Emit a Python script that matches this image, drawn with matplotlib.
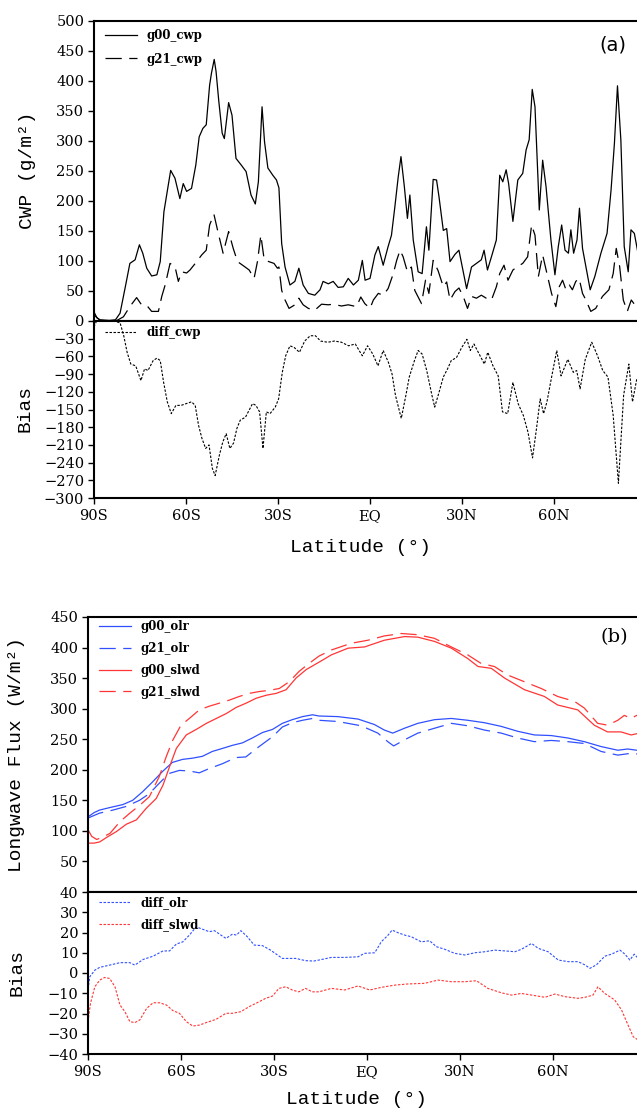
import matplotlib
matplotlib.use("Agg")
import matplotlib.pyplot as plt
import numpy as np

# ---- panel (a) data: cloud water path ----
lat_g00_cwp = [-90, -89, -88, -85, -83, -81.5, -79.9, -78.3, -76.6, -75.2, -74.1, -72.8, -71.2, -69.5, -68.4,
               -67.2, -66.1, -65, -63.6, -62, -60.9, -59.8, -58.2, -56.8, -55.7, -54.5, -53.4, -52.3, -51.7,
               -50.8, -50.2, -49.3, -48.2, -47.5, -46.1, -45, -43.7, -42, -40.4, -38.8, -37.4, -36.4, -35.2,
               -34.4, -33.3, -31.7, -30.5, -29.7, -28.8, -27.7, -26.1, -24.5, -23.2, -21.8, -20.1, -18, -16.3,
               -15.3, -13.6, -12, -10.4, -8.7, -7.1, -5.4, -3.8, -2.5, -1.6, 0, 1.6, 2.7, 4.3, 5.9, 7.0, 8.1,
               9.2, 10.1, 11.2, 12.2, 13.0, 14.1, 15.7, 17.0, 18.4, 19.2, 20.6, 21.7, 22.5, 23.9, 25.0, 26.1,
               27.7, 29.0, 30.4, 31.5, 33.1, 34.7, 36.3, 37.2, 38.3, 39.6, 41.2, 42.3, 43.3, 44.4, 45.2, 46.6,
               48.2, 49.8, 50.9, 51.9, 52.9, 53.8, 55.2, 56.3, 57.4, 59.0, 60.3, 61.4, 62.5, 63.6, 64.7, 65.5,
               66.4, 67.5, 68.3, 69.3, 70.4, 71.8, 73.3, 75.3, 77.3, 78.6, 79.7, 80.7, 81.8, 82.9, 84.2, 85.1,
               86.2, 87.5, 90]
g00_cwp = [15, 5, 2, 1, 2, 13, 54, 96, 102, 127, 113, 88, 75, 77, 99,
           182, 216, 251, 238, 204, 229, 216, 221, 260, 307, 321, 327, 393, 413,
           436, 416, 366, 313, 304, 364, 343, 271, 260, 249, 210, 195, 232, 357,
           299, 255, 243, 235, 222, 129, 90, 60, 66, 88, 60, 46, 43, 52,
           66, 62, 66, 56, 57, 71, 60, 68, 101, 68, 71, 110, 124, 93, 124, 143, 190,
           240, 274, 224, 171, 210, 135, 82, 79, 157, 118, 236, 235, 207, 151, 154, 99,
           111, 118, 82, 54, 90, 96, 102, 118, 85, 107, 135, 243, 232, 252, 229, 166,
           235, 246, 285, 302, 386, 357, 185, 268, 224, 135, 77, 124, 160, 118, 113, 152,
           113, 135, 188, 121, 91, 52, 74, 113, 146, 218, 296, 392, 302, 124, 82, 152,
           146, 110, 100]

lat_g21_cwp = [-90, -88, -85, -82.5, -80.4, -78.3, -76.1, -74.5, -72.8, -71.2, -69.0, -67.9, -66.8, -65.2,
               -63.6, -62.5, -61.4, -59.8, -58.7, -56.5, -54.9, -53.4, -52.3, -50.9, -49.6, -47.9, -46.1,
               -44.6, -43.2, -41.0, -39.4, -37.8, -36.7, -35.6, -34.5, -33, -31.3, -30.2, -29.7, -28.8, -27.7,
               -26.4, -24.5, -23.2, -21.8, -20.1, -18, -15.8, -13.6, -12, -9.3, -7.1, -4.4, -3, -1.7, 0, 1.1,
               2.7, 4.3, 5.9, 7.6, 8.7, 9.8, 10.8, 12.2, 13.5, 14.6, 16.8, 18.1, 19.2, 20.6, 22.2, 23.9, 25.0,
               26.1, 27.7, 29.0, 30.4, 31.8, 33.1, 34.7, 36.3, 37.9, 39.6, 41.2, 42.3, 43.7, 45, 46.6, 48.2,
               49.8, 51.4, 52.7, 53.8, 54.9, 56.3, 57.7, 59.2, 60.6, 61.7, 62.8, 63.9, 65, 66, 67.1, 68.2,
               69.3, 70.4, 72.0, 73.6, 75.8, 77.9, 79.3, 80.3, 81.4, 82.6, 83.9, 85.2, 86.8, 90]
g21_cwp = [10, 1, 0, 1, 7, 24, 39, 27, 26, 16, 16, 41, 60, 96,
           91, 66, 82, 80, 85, 99, 110, 118, 160, 178, 149, 113, 149,
           121, 99, 91, 85, 71, 99, 143, 102, 99, 96, 88, 90, 51, 35,
           21, 27, 38, 27, 21, 18, 28, 27, 28, 25, 27, 24, 40, 29, 21, 35,
           46, 43, 54, 79, 101, 118, 107, 82, 90, 51, 29, 68, 46, 101, 84, 57, 65,
           35, 49, 55, 41, 21, 41, 38, 43, 38, 35, 57, 79, 93, 68, 85, 91,
           96, 107, 160, 143, 74, 110, 79, 46, 24, 57, 68, 52, 60, 52, 66, 71,
           46, 35, 16, 21, 41, 52, 79, 121, 91, 35, 16, 35, 24, 20]

lat_diff_cwp = [-90, -89, -88, -85, -81.5, -80.3, -79.2, -78, -76.4, -74.7, -73.5, -72.4, -70.7, -69.5, -68.4,
                -67.3, -66.1, -64.8, -63.3, -61.6, -59.9, -58.2, -57, -55.9, -54.8, -53.6, -52.5, -51.4, -50.5,
                -49.1, -48, -46.9, -45.7, -44.5, -43.4, -42.3, -40.6, -39.4, -38.3, -37.2, -36, -34.9, -33.8,
                -32.6, -30.9, -29.8, -28.6, -27.5, -26.1, -24.7, -23, -21.3, -19.5, -17.8, -16.1, -13.8, -11.6,
                -9.3, -7.0, -4.8, -2.5, -0.8, 0.9, 2.6, 4.3, 6.0, 7.2, 8.3, 10.2, 11.7, 12.8, 14.5, 15.7, 17,
                18.5, 20.2, 21.1, 22.5, 23.9, 25.3, 26.5, 28.2, 29.9, 31.6, 32.7, 33.9, 35.6, 37.3, 38.4, 40.1,
                41.8, 43.2, 44.9, 46.6, 48.3, 50, 51.5, 53, 54.3, 55.5, 56.6, 57.7, 59.4, 60.9, 62.3, 64.5,
                66.3, 67.4, 68.5, 70.2, 72.3, 74.2, 75.9, 77.6, 79.3, 81, 82.7, 84.4, 85.6, 87, 90]
diff_cwp = [-10, 2, 3, 2, -3, -25, -53, -73, -76, -101, -81, -84, -67, -63, -67,
            -104, -137, -157, -143, -143, -140, -137, -143, -177, -199, -216, -210, -250, -262,
            -227, -205, -191, -216, -207, -182, -168, -163, -151, -140, -143, -154, -216, -154,
            -157, -146, -132, -87, -59, -42, -45, -53, -34, -25, -25, -34, -36, -34,
            -36, -42, -39, -59, -42, -56, -76, -50, -70, -90, -126, -165, -126, -95, -67, -50, -56,
            -84, -126, -146, -121, -95, -81, -67, -62, -45, -31, -50, -39, -56, -73, -53, -76,
            -93, -154, -157, -104, -140, -160, -188, -232, -182, -132, -157, -137, -90, -50, -93, -65,
            -87, -84, -115, -65, -36, -59, -84, -95, -160, -275, -126, -73, -137, -98, -90]

# ---- panel (b) data: longwave fluxes ----
lat_g00_olr = [-90, -88, -86.3, -83.1, -78.8, -75.6, -72.4, -69.2, -66, -62.8, -59.5, -56.3, -53.1, -49.9,
               -46.6, -43.4, -40.2, -37, -33.7, -30.5, -27.3, -24.1, -20.8, -17.6, -15.5, -9.4, -2.9, 2.4,
               5.6, 8.3, 12.1, 16.4, 21.8, 27.2, 32.5, 37.9, 43.3, 48.6, 54.0, 59.4, 64.8, 70.1, 75.5, 80.9,
               84.1, 87, 90]
g00_olr = [123, 130, 134, 138, 143, 150, 164, 180, 197, 212, 217, 219, 222, 230,
           235, 240, 244, 252, 261, 266, 276, 282, 287, 290, 288, 287, 283, 274,
           265, 260, 268, 276, 282, 284, 281, 277, 271, 263, 257, 256, 252, 246, 238, 232,
           234, 232, 231]

lat_g21_olr = [-90, -86.3, -82, -77.7, -73.4, -70.2, -67, -63.8, -60.5, -57.3, -54.1, -50.9, -46.6, -42.3,
               -39.1, -34.8, -30.5, -27.3, -24.1, -20.8, -17.6, -15.5, -9.4, -1.9, 3.5, 6.7, 8.6, 12.1, 16.4,
               21.8, 27.2, 32.5, 37.9, 43.3, 48.6, 54, 59.4, 64.8, 70.1, 75.5, 80.9, 85.2, 87, 90]
g21_olr = [121, 129, 134, 140, 150, 161, 178, 194, 199, 198, 195, 202, 210, 220,
           221, 238, 254, 270, 277, 281, 284, 281, 279, 272, 260, 246, 239, 249, 260,
           268, 276, 272, 265, 260, 252, 246, 248, 246, 243, 230, 224, 227, 226, 225]

lat_g00_slwd = [-90, -88, -86.2, -84.1, -80.8, -77.6, -74.4, -71.2, -68, -65.8, -63.7, -61.5, -58.3, -55.1,
                -51.8, -48.6, -45.4, -42.2, -39, -35.8, -32.5, -29.3, -26.1, -22.9, -19.6, -15.5, -11.5, -6.1,
                -0.8, 5.6, 12.1, 16.4, 21.8, 27.2, 32.5, 35.8, 40.1, 44.4, 50.8, 57.2, 61.5, 68, 73.3, 77.6,
                81.9, 85.2, 87, 90]
g00_slwd = [80, 80, 82, 89, 99, 111, 118, 137, 153, 175, 205, 235, 257, 266,
            276, 284, 292, 302, 309, 317, 322, 325, 331, 350, 364, 376, 388, 399,
            401, 412, 418, 417, 410, 399, 382, 369, 366, 350, 331, 320, 306, 298, 273, 262,
            262, 257, 259, 258]

lat_g21_slwd = [-90, -88.8, -87.2, -85.6, -82.9, -79.7, -76.5, -73.3, -70.2, -67, -64.8, -62.7, -60, -57.3,
                -54.1, -50.9, -47.6, -44.4, -41.2, -38, -34.8, -31.5, -28.3, -25.1, -21.9, -18.7, -15.5,
                -11.5, -5.1, 0.3, 5.6, 11, 16.4, 21.8, 27.2, 32.5, 36.8, 41.1, 45.4, 50.8, 56.2, 61.5, 66.9,
                70.1, 74.4, 77.6, 80.9, 83, 85.2, 87, 90]
g21_slwd = [102, 91, 86, 89, 96, 115, 129, 142, 156, 189, 221, 248, 273, 284,
            298, 304, 309, 314, 320, 325, 328, 330, 333, 344, 361, 374, 386,
            396, 407, 412, 419, 423, 421, 415, 401, 388, 374, 369, 355, 344, 333, 320, 312,
            301, 276, 273, 281, 289, 284, 289, 288]

lat_diff_olr = [-90, -89.4, -87.8, -86.2, -83, -79.7, -76.5, -74.9, -72.2, -69, -65.8, -63.7, -61.5, -59.4,
                -57.3, -55.1, -53, -50.9, -49.2, -47.1, -45.5, -43.4, -42.1, -40.7, -38.6, -36.4, -33.7,
                -31.1, -27.3, -23, -19.8, -17.2, -15.5, -11.5, -7.2, -2.9, -0.8, 2.5, 4.6, 6.8, 8.1, 10, 12.2,
                14.3, 17.5, 20.2, 22.4, 25.1, 28.3, 31.6, 34.8, 38, 41.2, 44.5, 47.7, 49.8, 53.1, 55.2, 58.4,
                61.7, 64.9, 68.1, 70.3, 71.9, 74, 76.7, 78.9, 81.6, 83.2, 84.8, 86.2, 87.2, 90]
diff_olr = [-8, -1.8, 1.4, 2.8, 3.9, 5.1, 5.1, 3.9, 6.7, 8.3, 10.9, 10.9, 14.3, 15.4,
            18.7, 22.8, 21.6, 20.4, 20.9, 18.7, 17.1, 19.2, 18.7, 20.9, 17.9, 13.8, 13.5,
            11.3, 7.2, 7.2, 6.1, 5.9, 6.4, 7.7, 7.7, 8.0, 9.7, 10.0, 15.4, 18.7, 21.2, 19.9, 18.7,
            17.9, 15.4, 15.9, 13.0, 11.7, 9.7, 8.9, 10.0, 10.5, 11.3, 10.9, 10.5, 11.7, 14.6, 12.2, 10.5,
            6.4, 5.6, 5.6, 4.0, 2.3, 4.0, 8.3, 9.3, 11.3, 9.3, 6.4, 9.3, 7.7, 8]

lat_diff_slwd = [-90, -89.2, -87.8, -86.2, -84.6, -83, -81.3, -79.7, -78.1, -76.5, -74.9, -73.3, -71.1, -69,
                 -66.9, -64.7, -62.6, -60.5, -58.3, -56.2, -54, -51.9, -48.7, -45.5, -43.4, -40.7, -38, -34.8,
                 -32.7, -30.5, -28.4, -26.2, -24.1, -22, -19.8, -17.7, -15.5, -11.5, -7.2, -2.9, 0.9, 4.6, 8.9,
                 13.3, 18.6, 22.9, 27.2, 31.6, 35.3, 39, 43.4, 46.6, 49.8, 53.1, 57.4, 60.6, 63.9, 68.1, 70.3,
                 72.9, 74.5, 76.7, 79.9, 82.1, 84.2, 85.9, 87.2, 90]
diff_slwd = [-24, -15, -6.8, -3.5, -2.2, -2.7, -6.8, -15.8, -19.1, -24, -24.5, -23.2, -17.5, -14.7,
             -14.7, -15.8, -18.6, -19.9, -24, -26.2, -25.7, -24.5, -22.9, -19.9, -19.9, -19.1, -16.6, -14.2,
             -12.5, -11.4, -7.6, -6.8, -8.4, -9.3, -7.6, -9.3, -9.3, -7.6, -8.4, -6.4, -8.4, -7.1, -6.0,
             -5.4, -5.1, -3.5, -4.3, -4.3, -3.8, -7.6, -9.8, -10.9, -10.1, -10.9, -12.0, -10.4, -11.7, -12.5, -12.0,
             -10.9, -6.8, -10.1, -13.3, -18.2, -25.7, -31.5, -32.8, -34]

xticks = [-90, -60, -30, 0, 30, 60]
xticklabels = ["90S", "60S", "30S", "EQ", "30N", "60N"]

W, H = 637, 1112
fig = plt.figure(figsize=(W / 100, H / 100), dpi=100)


def box(l, t, r, b):
    return [l / W, 1 - b / H, (r - l) / W, (b - t) / H]


tickfont = {"family": "DejaVu Serif", "size": 10.5}
labfont = {"family": "Liberation Mono", "size": 14}
legfont = {"family": "DejaVu Serif", "weight": "bold", "size": 8.5}

blue = "#3050ff"
red = "#ff3535"
longdash = (0, (13, 6))
dots = (0, (2.2, 1.4))


def style(ax, yticks, show_x):
    ax.set_xlim(-90, 90)
    for s in ax.spines.values():
        s.set_linewidth(1.5)
    ax.set_yticks(yticks)
    ax.set_yticklabels([str(v).replace("-", "\u2212") for v in yticks], fontdict=tickfont)
    ax.tick_params(axis="y", direction="out", length=4, width=1, pad=3)
    if show_x:
        ax.set_xticks(xticks)
        ax.set_xticklabels(xticklabels, fontdict=tickfont)
        ax.tick_params(axis="x", direction="out", length=4, width=1, pad=4)
    else:
        ax.set_xticks([])


def legend(ax, x, y, spacing):
    leg = ax.legend(loc="upper left", bbox_to_anchor=(x / W, 1 - y / H), bbox_transform=fig.transFigure,
                    frameon=False, prop=legfont, handlelength=2.7, handletextpad=0.8,
                    labelspacing=spacing, borderpad=0, borderaxespad=0)
    return leg


# ---- (a) ----
ax1 = fig.add_axes(box(94, 21, 646, 321))
ax1.plot(lat_g00_cwp, g00_cwp, color="black", lw=0.9, label="g00_cwp")
ax1.plot(lat_g21_cwp, g21_cwp, color="black", lw=0.9, ls=longdash, label="g21_cwp")
ax1.set_ylim(0, 500)
style(ax1, list(range(50, 501, 50)), False)
legend(ax1, 105, 29, 0.9)
ax1.text(613 / W, 1 - 45 / H, "(a)", transform=fig.transFigure, ha="center", va="center",
         family="DejaVu Sans", fontsize=14)

ax2 = fig.add_axes(box(94, 321, 646, 498))
ax2.plot(lat_diff_cwp, diff_cwp, color="black", lw=0.8, ls=dots, label="diff_cwp")
ax2.set_ylim(-300, 0)
style(ax2, list(range(-300, 1, 30)), True)
legend(ax2, 105, 326, 0.9)

fig.text(27 / W, 1 - 170 / H, "CWP (g/m\u00b2)", rotation=90, ha="center", va="center", fontdict=labfont)
fig.text(25 / W, 1 - 409 / H, "Bias", rotation=90, ha="center", va="center", fontdict=labfont)
fig.text(360 / W, 1 - 548 / H, "Latitude (\u00b0)", ha="center", va="center", fontdict=labfont)

# ---- (b) ----
ax3 = fig.add_axes(box(88, 617, 646, 892))
ax3.plot(lat_g00_olr, g00_olr, color=blue, lw=0.9, label="g00_olr")
ax3.plot(lat_g21_olr, g21_olr, color=blue, lw=0.9, ls=longdash, label="g21_olr")
ax3.plot(lat_g00_slwd, g00_slwd, color=red, lw=0.9, label="g00_slwd")
ax3.plot(lat_g21_slwd, g21_slwd, color=red, lw=0.9, ls=longdash, label="g21_slwd")
ax3.set_ylim(0, 450)
style(ax3, list(range(50, 451, 50)), False)
legend(ax3, 99, 620, 0.75)
ax3.text(614 / W, 1 - 637 / H, "(b)", transform=fig.transFigure, ha="center", va="center",
         family="DejaVu Serif", fontsize=14)

ax4 = fig.add_axes(box(88, 892, 646, 1054))
ax4.plot(lat_diff_olr, diff_olr, color=blue, lw=0.8, ls=dots, label="diff_olr")
ax4.plot(lat_diff_slwd, diff_slwd, color=red, lw=0.8, ls=dots, label="diff_slwd")
ax4.set_ylim(-40, 40)
style(ax4, list(range(-40, 41, 10)), True)
legend(ax4, 99, 896, 0.75)

fig.text(17 / W, 1 - 755 / H, "Longwave Flux (W/m\u00b2)", rotation=90, ha="center", va="center", fontdict=labfont)
fig.text(17 / W, 1 - 973 / H, "Bias", rotation=90, ha="center", va="center", fontdict=labfont)
fig.text(357 / W, 1 - 1100 / H, "Latitude (\u00b0)", ha="center", va="center", fontdict=labfont)

fig.savefig("out.png", dpi=100)
